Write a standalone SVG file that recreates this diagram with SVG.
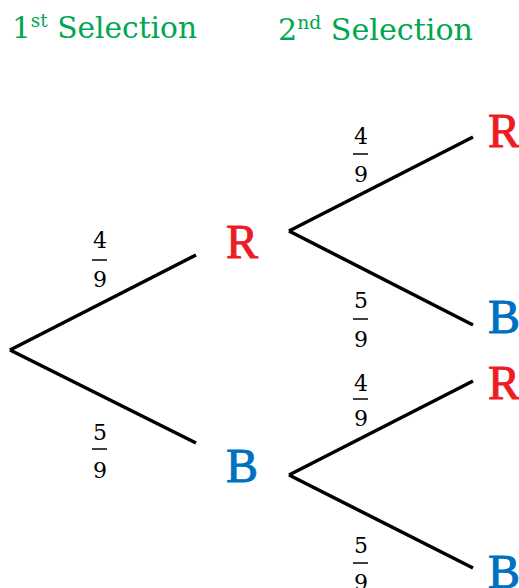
<svg xmlns="http://www.w3.org/2000/svg" width="519" height="588" viewBox="0 0 519 588">
<style>
.hdr{font-family:"DejaVu Serif","Liberation Serif",serif;font-size:29px;fill:#00a650}
.sup{font-size:18px}
.lbl{font-family:"Liberation Serif","DejaVu Serif",serif;font-size:48px;text-anchor:middle;stroke-width:1;stroke-linejoin:round}
.r{fill:#ed1c24;stroke:#ed1c24}
.b{fill:#0070c0;stroke:#0070c0}
.num{font-family:"DejaVu Serif","Liberation Serif",serif;font-size:22px;fill:#000;text-anchor:middle}
.bar{stroke:#000;stroke-width:1.5}
.edge{stroke:#000;stroke-width:3.5;stroke-linecap:butt;fill:none}
</style>
<text class="hdr" x="12" y="38" textLength="185" lengthAdjust="spacingAndGlyphs">1<tspan class="sup" dy="-11">st</tspan><tspan dy="11"> Selection</tspan></text>
<text class="hdr" x="278" y="40" textLength="195" lengthAdjust="spacingAndGlyphs">2<tspan class="sup" dy="-11">nd</tspan><tspan dy="11"> Selection</tspan></text>
<g id="connectors">
<line class="edge" x1="10" y1="350" x2="196" y2="255"/>
<line class="edge" x1="10" y1="350" x2="196" y2="443"/>
<line class="edge" x1="289" y1="231" x2="473" y2="137"/>
<line class="edge" x1="289" y1="231" x2="473" y2="325"/>
<line class="edge" x1="289" y1="475" x2="473" y2="381"/>
<line class="edge" x1="289" y1="475" x2="473" y2="568"/>
</g>
<g id="frac-l-top"><text class="num" x="100" y="248">4</text><line class="bar" x1="92" y1="260" x2="107" y2="260"/><text class="num" x="100" y="287">9</text></g>
<g id="frac-l-bot"><text class="num" x="100" y="440">5</text><line class="bar" x1="92" y1="449" x2="107" y2="449"/><text class="num" x="100" y="478">9</text></g>
<g id="frac-r1-top"><text class="num" x="361" y="144">4</text><line class="bar" x1="353" y1="154" x2="368" y2="154"/><text class="num" x="361" y="182">9</text></g>
<g id="frac-r1-bot"><text class="num" x="361" y="308">5</text><line class="bar" x1="353" y1="319" x2="368" y2="319"/><text class="num" x="361" y="347">9</text></g>
<g id="frac-r2-top"><text class="num" x="361" y="391">4</text><line class="bar" x1="353" y1="399" x2="368" y2="399"/><text class="num" x="361" y="426">9</text></g>
<g id="frac-r2-bot"><text class="num" x="361" y="553">5</text><line class="bar" x1="353" y1="563" x2="368" y2="563"/><text class="num" x="361" y="590">9</text></g>
<g id="node-R1"><text class="lbl r" x="242" y="258">R</text></g>
<g id="node-B1"><text class="lbl b" x="242" y="482">B</text></g>
<g id="node-RR"><text class="lbl r" x="504" y="147">R</text></g>
<g id="node-RB"><text class="lbl b" x="504" y="333">B</text></g>
<g id="node-BR"><text class="lbl r" x="504" y="399">R</text></g>
<g id="node-BB"><text class="lbl b" x="504" y="588">B</text></g>
</svg>
